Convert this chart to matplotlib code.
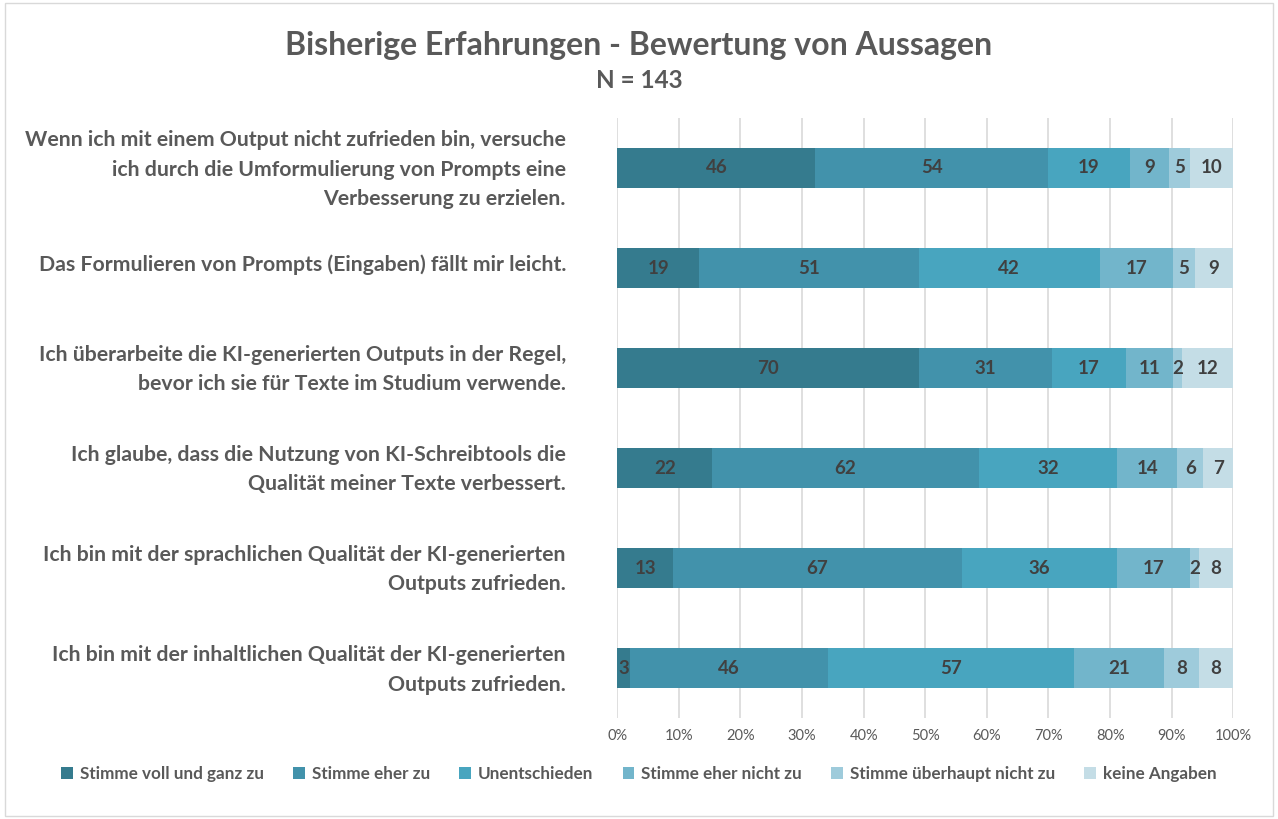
import matplotlib.pyplot as plt
import matplotlib.transforms as mtransforms
import numpy as np
from matplotlib.patches import Rectangle

plt.rcParams["font.family"] = ["Lato", "DejaVu Sans"]

# Statements, top to bottom as shown
statements = [
    "Wenn ich mit einem Output nicht zufrieden bin, versuche\nich durch die Umformulierung von Prompts eine\nVerbesserung zu erzielen.",
    "Das Formulieren von Prompts (Eingaben) fällt mir leicht.",
    "Ich überarbeite die KI-generierten Outputs in der Regel,\nbevor ich sie für Texte im Studium verwende.",
    "Ich glaube, dass die Nutzung von KI-Schreibtools die\nQualität meiner Texte verbessert.",
    "Ich bin mit der sprachlichen Qualität der KI-generierten\nOutputs zufrieden.",
    "Ich bin mit der inhaltlichen Qualität der KI-generierten\nOutputs zufrieden.",
]
categories = [
    "Stimme voll und ganz zu",
    "Stimme eher zu",
    "Unentschieden",
    "Stimme eher nicht zu",
    "Stimme überhaupt nicht zu",
    "keine Angaben",
]
# counts per category (columns) for each statement (rows)
counts = np.array([
    [46, 54, 19, 9, 5, 10],
    [19, 51, 42, 17, 5, 9],
    [70, 31, 17, 11, 2, 12],
    [22, 62, 32, 14, 6, 7],
    [13, 67, 36, 17, 2, 8],
    [3, 46, 57, 21, 8, 8],
])
colors = ["#357b8e", "#4292ab", "#48a5bf", "#72b5cb", "#9ecbdb", "#c4dde6"]

fig = plt.figure(figsize=(12.78, 8.19), dpi=100)
ax = fig.add_axes([0.483, 0.123, 0.482, 0.733])

share = counts / counts.sum(axis=1, keepdims=True)
ypos = np.arange(len(statements))
left = np.zeros(len(statements))
for j, cat in enumerate(categories):
    ax.barh(ypos, share[:, j], left=left, height=0.4, color=colors[j],
            label=cat, zorder=2)
    for i in range(len(statements)):
        ax.text(left[i] + share[i, j] / 2, ypos[i], str(counts[i, j]),
                ha="center", va="center", fontsize=13.5, fontweight="bold",
                color="#404040", zorder=3)
    left += share[:, j]

ax.set_xlim(0, 1)
ax.set_ylim(len(statements) - 0.5, -0.5)
ax.set_xticks(np.arange(0, 1.01, 0.1))
ax.set_xticklabels([f"{int(round(v * 100))}%" for v in np.arange(0, 1.01, 0.1)],
                   fontsize=10.5, color="#595959")
ax.set_yticks(ypos)
ax.set_yticklabels(statements, fontsize=15.3, fontweight="bold", color="#595959",
                   linespacing=1.58)
ax.tick_params(axis="both", length=0)
ax.tick_params(axis="y", pad=37)
ax.tick_params(axis="x", pad=8)
ax.grid(axis="x", color="#d9d9d9", linewidth=1.2, zorder=0)
for s in ax.spines.values():
    s.set_visible(False)

# nudge statement labels up a little
shift = mtransforms.ScaledTranslation(0, 5 / 100, fig.dpi_scale_trans)
for lbl in ax.get_yticklabels():
    lbl.set_transform(lbl.get_transform() + shift)

fig.text(0.5, 0.945, "Bisherige Erfahrungen - Bewertung von Aussagen",
         ha="center", va="center", fontsize=23, fontweight="bold", color="#595959")
fig.text(0.5, 0.902, "N = 143", ha="center", va="center", fontsize=17.5,
         fontweight="bold", color="#595959")

fig.legend(loc="center", bbox_to_anchor=(0.5, 0.055), ncol=6, frameon=False,
           handlelength=0.7, handleheight=0.7, handletextpad=0.4,
           columnspacing=1.7, labelcolor="#595959",
           prop={"weight": "bold", "size": 12.3})

fig.patches.append(Rectangle((0.004, 0.004), 0.992, 0.992, transform=fig.transFigure,
                             fill=False, edgecolor="#d9d9d9", linewidth=1))

fig.savefig("out.png", dpi=100)
